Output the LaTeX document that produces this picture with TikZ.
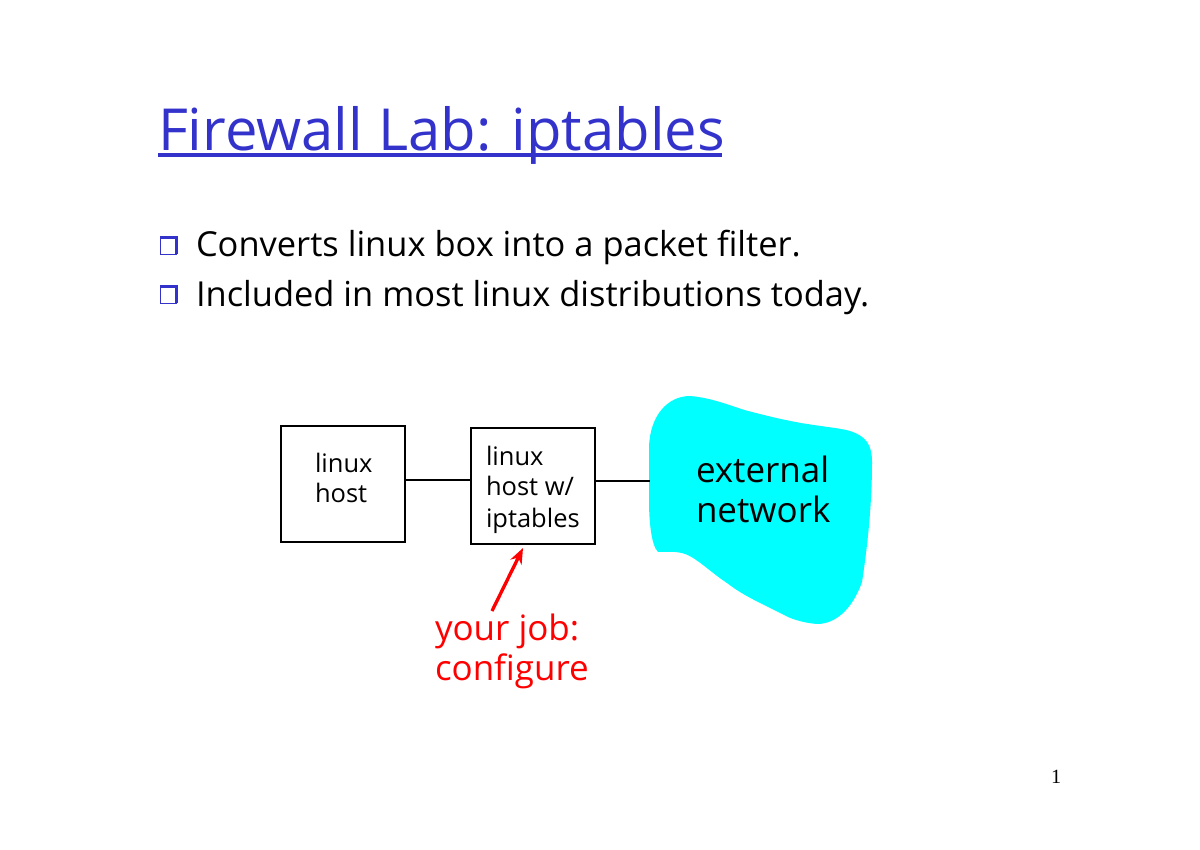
\documentclass[tikz,border=0pt]{standalone}
\usepackage{fontspec}
\setmainfont{Open Sans}
\newfontfamily\numfont{Liberation Serif}
\usetikzlibrary{arrows.meta}
\definecolor{slideblue}{HTML}{3333CC}
\definecolor{netcyan}{RGB}{0,255,255}
\newcommand{\fsz}[1]{\fontsize{#1}{#1}\selectfont}
\tikzset{
  x=0.02cm,y=-0.02cm,
  txt/.style={anchor=base west,inner sep=0pt,outer sep=0pt},
  boxn/.style={draw=black,line width=1.4pt,minimum width=2.48cm,minimum height=2.32cm,inner sep=0pt,outer sep=0pt},
  wire/.style={draw=black,line width=1.4pt},
  small/.style={txt,font=\fsz{14.5}},
  big/.style={txt,font=\fsz{19.9}},
  body/.style={txt,font=\fsz{19.6}},
  bul/.style={draw=slideblue,line width=0.6pt,minimum size=0.33cm,inner sep=0pt,outer sep=0pt},
}
\begin{document}
\begin{tikzpicture}
\useasboundingbox (0,0) rectangle (1200,849);
\node[txt,text=slideblue,font=\fsz{33}] (title) at (158,150) {Firewall Lab: iptables};
\coordinate (ulA) at (158,155);
\coordinate (ulB) at (722,155);
\draw[slideblue,line width=1.8pt] (ulA) -- (ulB);

\node[bul] (b1) at (168.5,246) {};
\draw[slideblue,line width=1.7pt] (b1.north west) -- (b1.north east) -- (b1.south east);
\node[bul] (b2) at (168.5,295) {};
\draw[slideblue,line width=1.7pt] (b2.north west) -- (b2.north east) -- (b2.south east);
\node[body] (t1) at (196,256) {Converts linux box into a packet filter.};
\node[body] (t2) at (196,306) {Included in most linux distributions today.};

\path[fill=netcyan] (649,447)
  .. controls (650,415) and (668,396) .. (690,396)
  .. controls (715,398) and (735,408) .. (752,412)
  .. controls (775,418) and (790,421) .. (801,423)
  .. controls (825,427) and (840,428) .. (850,431)
  .. controls (866,436) and (872,445) .. (872,462)
  .. controls (872,490) and (870,530) .. (862,582)
  .. controls (852,610) and (835,624) .. (817,624)
  .. controls (805,623) and (795,620) .. (788,617)
  .. controls (765,605) and (745,597) .. (727,583)
  .. controls (710,572) and (695,556) .. (682,553)
  .. controls (672,551) and (664,552) .. (658,552)
  .. controls (651,545) and (649,520) .. (649,500)
  -- cycle;
\coordinate (net) at (650,481);

\node[boxn] (h1) at (343,484) {};
\node[boxn] (h2) at (533,486) {};
\draw[wire] (h1.east |- 0,480) -- (h2.west |- 0,480);
\draw[wire] (h2.east |- net) -- (net);

\node[small] (l1) at (315,472) {linux};
\node[small] (l2) at (315,502) {host};
\node[small] (m1) at (486,465) {linux};
\node[small] (m2) at (486,495) {host w/};
\node[small] (m3) at (486,527) {iptables};
\node[big] (e1) at (696,482) {external};
\node[big] (e2) at (696,522) {network};

\node[big,text=red] (y1) at (435,640) {your job:};
\node[big,text=red] (y2) at (435,680) {configure};
\coordinate (arrS) at (492,611);
\coordinate (arrE) at (523,548);
\draw[red,line width=1.9pt,-{Stealth[length=9pt,width=7pt]}] (arrS) -- (arrE);

\node[txt,font=\numfont\fsz{11.5}] (pg) at (1051,783) {1};
\end{tikzpicture}
\end{document}
